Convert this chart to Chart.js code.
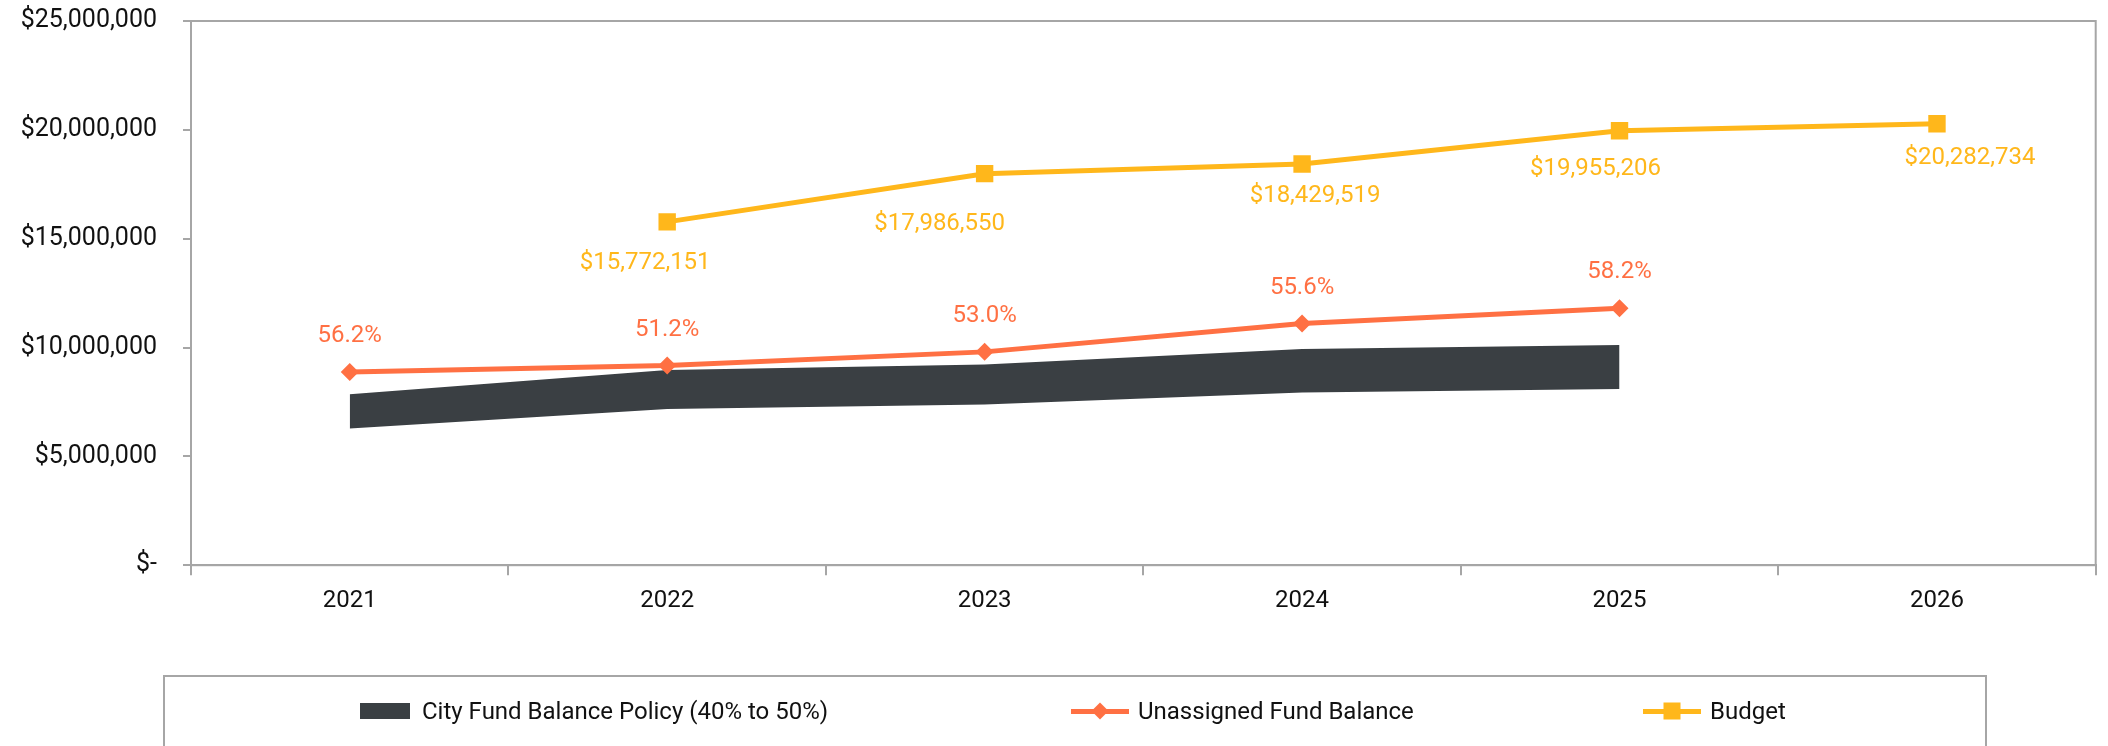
<!DOCTYPE html>
<html>
<head>
<meta charset="utf-8">
<script src="https://cdn.jsdelivr.net/npm/chart.js@4.4.1/dist/chart.umd.min.js"></script>
<style>
  html, body { margin: 0; padding: 0; background: #fff; }
  #wrap { position: relative; width: 2108px; height: 746px; overflow: hidden; font-family: Roboto, sans-serif; }
  #chart { position: absolute; left: 0; top: 0; }
  #legend-box { position: absolute; left: 163px; top: 675px; width: 1824px; height: 120px; border: 2px solid #a6a6a6; box-sizing: border-box; }
  .lg-item { position: absolute; top: 693px; height: 36px; display: flex; align-items: center; font-size: 24px; color: #111; white-space: nowrap; }
  .lg-box { width: 50px; height: 16px; margin-right: 12px; }
  .lg-line { position: relative; width: 58px; height: 5px; margin-right: 9px; }
  .lg-point { position: absolute; left: 50%; top: 50%; }
</style>
</head>
<body>
<div id="wrap">
  <canvas id="chart" width="2108" height="746"></canvas>
  <div id="legend-box"></div>
</div>
<script>
// ====== データ ======
const years = ['2021', '2022', '2023', '2024', '2025', '2026'];
const policyLow  = [6280000, 7180000, 7380000, 7930000, 8100000, null];   // 40%
const policyHigh = [7850000, 8970000, 9220000, 9930000, 10120000, null];  // 50%
const unassigned = [8880000, 9170000, 9800000, 11100000, 11800000, null];
const unassignedPct = [56.2, 51.2, 53.0, 55.6, 58.2, null];
const budget = [null, 15772151, 17986550, 18429519, 19955206, 20282734];
const yMax = 25000000;
const yStep = 5000000;

// ====== 色・ラベル位置 ======
const DARK = '#3a3f43';
const ORANGE = '#ff7043';
const GOLD = '#ffb71b';
const AXIS = '#a6a6a6';

// Budgetラベルの手動オフセット（px、元のグラフに合わせる）
const budgetLabelShift = [null, [-22, 41], [-45, 50], [13, 32], [-24, 38], [33, 34]];

Chart.defaults.font.family = "Roboto, 'Noto Sans', sans-serif";
Chart.defaults.font.size = 24;
Chart.defaults.color = '#111';

// プロットエリアの枠線
const plotBorder = {
  id: 'plotBorder',
  afterDraw(chart) {
    const { ctx, chartArea: a } = chart;
    ctx.save();
    ctx.strokeStyle = AXIS;
    ctx.lineWidth = 2;
    ctx.strokeRect(a.left, a.top, a.right - a.left, a.bottom - a.top);
    ctx.restore();
  },
};

// データラベル
const valueLabels = {
  id: 'valueLabels',
  afterDatasetsDraw(chart) {
    const ctx = chart.ctx;
    ctx.save();
    ctx.font = "24px Roboto, 'Noto Sans', sans-serif";
    ctx.textAlign = 'center';
    ctx.textBaseline = 'middle';
    chart.getDatasetMeta(2).data.forEach((pt, i) => {
      if (unassignedPct[i] == null) return;
      ctx.fillStyle = ORANGE;
      ctx.fillText(unassignedPct[i].toFixed(1) + '%', pt.x, pt.y - 36);
    });
    chart.getDatasetMeta(3).data.forEach((pt, i) => {
      if (budget[i] == null) return;
      const [dx, dy] = budgetLabelShift[i];
      ctx.fillStyle = GOLD;
      ctx.fillText('$' + budget[i].toLocaleString('en-US'), pt.x + dx, pt.y + dy);
    });
    ctx.restore();
  },
};

const chart = new Chart(document.getElementById('chart'), {
  type: 'line',
  data: {
    labels: years,
    datasets: [
      {
        label: 'policyLow',
        data: policyLow,
        borderWidth: 0,
        pointRadius: 0,
        fill: false,
        order: 3,
      },
      {
        label: 'City Fund Balance Policy (40% to 50%)',
        data: policyHigh,
        borderColor: DARK,
        borderWidth: 0,
        backgroundColor: DARK,
        pointRadius: 0,
        fill: '-1',
        order: 3,
      },
      {
        label: 'Unassigned Fund Balance',
        data: unassigned,
        borderColor: ORANGE,
        backgroundColor: ORANGE,
        borderWidth: 5,
        pointStyle: 'rectRot',
        pointRadius: 9,
        pointBorderWidth: 0,
        order: 2,
      },
      {
        label: 'Budget',
        data: budget,
        borderColor: GOLD,
        backgroundColor: GOLD,
        borderWidth: 5,
        pointStyle: 'rect',
        pointRadius: 12.3,
        pointBorderWidth: 0,
        order: 1,
      },
    ],
  },
  options: {
    responsive: false,
    animation: false,
    layout: { padding: { left: 0, top: 21, right: 10, bottom: 120 } },
    elements: { line: { tension: 0 } },
    plugins: { legend: { display: false }, tooltip: { enabled: false } },
    scales: {
      x: {
        offset: true,
        grid: { offset: true, drawOnChartArea: false, tickLength: 10, color: AXIS, lineWidth: 2 },
        border: { color: AXIS, width: 2 },
        ticks: { padding: 11, color: '#111' },
        afterFit(scale) { scale.paddingLeft = 0; scale.paddingRight = 0; },
      },
      y: {
        min: 0,
        max: yMax,
        afterFit(scale) {
          scale.width = 191;
          scale.paddingTop = 0;
          scale.paddingBottom = 0;
        },
        grid: { drawOnChartArea: false, tickLength: 8, color: AXIS, lineWidth: 2 },
        border: { color: AXIS, width: 2 },
        ticks: {
          stepSize: yStep,
          padding: 26,
          color: '#111',
          font: { size: 25 },
          callback: (v) => (v === 0 ? '$-' : '$' + v.toLocaleString('en-US')),
        },
      },
    },
  },
  plugins: [plotBorder, valueLabels],
});

// ====== 凡例（HTML） ======
const legendItems = [
  { ds: 1, type: 'box', left: 360 },
  { ds: 2, type: 'line', left: 1071, point: 'diamond' },
  { ds: 3, type: 'line', left: 1643, point: 'square' },
];
const wrap = document.getElementById('wrap');
legendItems.forEach((item) => {
  const ds = chart.data.datasets[item.ds];
  const div = document.createElement('div');
  div.className = 'lg-item';
  div.style.left = item.left + 'px';
  const mark = document.createElement('span');
  if (item.type === 'box') {
    mark.className = 'lg-box';
    mark.style.background = ds.backgroundColor;
  } else {
    mark.className = 'lg-line';
    mark.style.background = ds.borderColor;
    const p = document.createElement('span');
    p.className = 'lg-point';
    p.style.background = ds.borderColor;
    if (item.point === 'diamond') {
      p.style.width = '12px'; p.style.height = '12px';
      p.style.transform = 'translate(-50%, -50%) rotate(45deg)';
    } else {
      p.style.width = '17px'; p.style.height = '17px';
      p.style.transform = 'translate(-50%, -50%)';
    }
    mark.appendChild(p);
  }
  const text = document.createElement('span');
  text.textContent = ds.label;
  div.appendChild(mark);
  div.appendChild(text);
  wrap.appendChild(div);
});
</script>
</body>
</html>
